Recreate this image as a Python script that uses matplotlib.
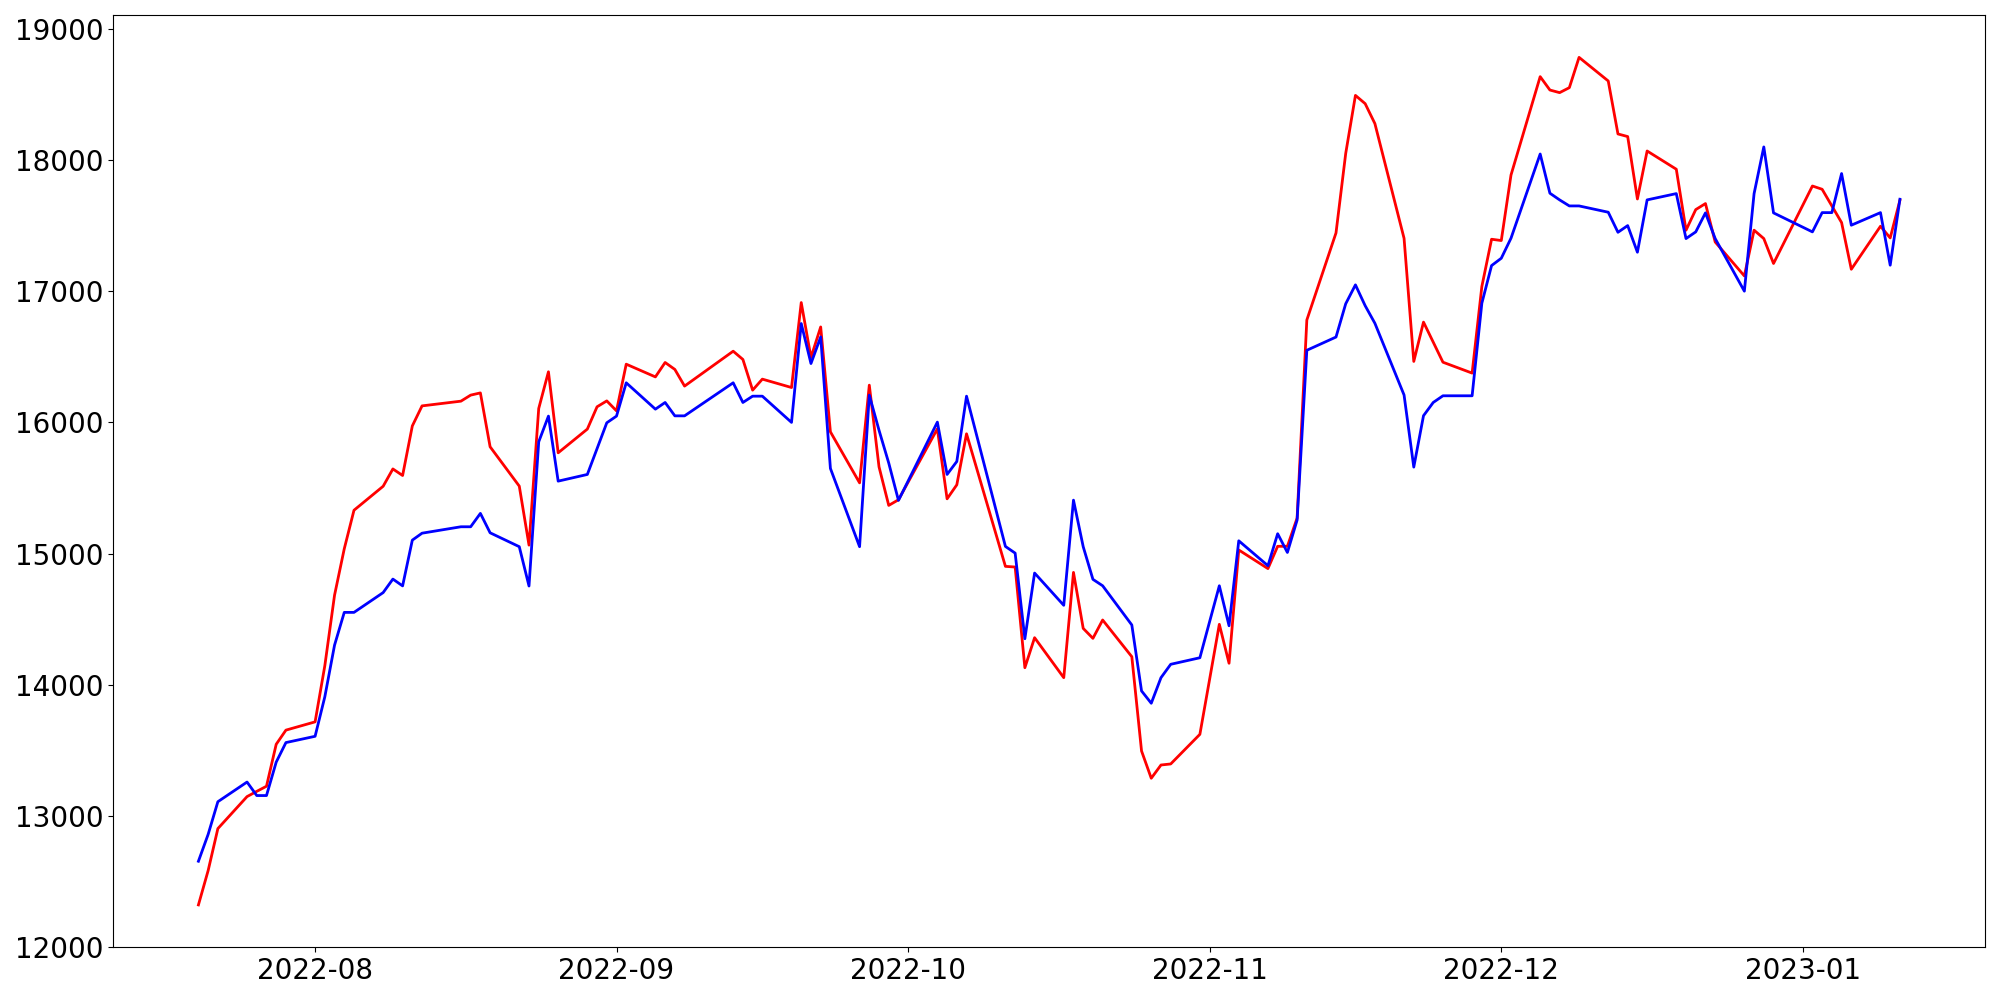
import pandas as pd
from matplotlib import pyplot as plt

# trading days shown in the chart (some days are missing in the data)
dates = [
    "2022-07-20", "2022-07-21", "2022-07-22", "2022-07-25", "2022-07-26", "2022-07-27", "2022-07-28", "2022-07-29",
    "2022-08-01", "2022-08-02", "2022-08-03", "2022-08-04", "2022-08-05",
    "2022-08-08", "2022-08-09", "2022-08-10", "2022-08-11", "2022-08-12",
    "2022-08-16", "2022-08-17", "2022-08-18", "2022-08-19",
    "2022-08-22", "2022-08-23", "2022-08-24", "2022-08-25", "2022-08-26",
    "2022-08-29", "2022-08-30", "2022-08-31", "2022-09-01", "2022-09-02",
    "2022-09-05", "2022-09-06", "2022-09-07", "2022-09-08",
    "2022-09-13", "2022-09-14", "2022-09-15", "2022-09-16",
    "2022-09-19", "2022-09-20", "2022-09-21", "2022-09-22", "2022-09-23",
    "2022-09-26", "2022-09-27", "2022-09-28", "2022-09-29", "2022-09-30",
    "2022-10-04", "2022-10-05", "2022-10-06", "2022-10-07",
    "2022-10-11", "2022-10-12", "2022-10-13", "2022-10-14",
    "2022-10-17", "2022-10-18", "2022-10-19", "2022-10-20", "2022-10-21",
    "2022-10-24", "2022-10-25", "2022-10-26", "2022-10-27", "2022-10-28",
    "2022-10-31", "2022-11-01", "2022-11-02", "2022-11-03", "2022-11-04",
    "2022-11-07", "2022-11-08", "2022-11-09", "2022-11-10", "2022-11-11",
    "2022-11-14", "2022-11-15", "2022-11-16", "2022-11-17", "2022-11-18",
    "2022-11-21", "2022-11-22", "2022-11-23", "2022-11-24", "2022-11-25",
    "2022-11-28", "2022-11-29", "2022-11-30", "2022-12-01", "2022-12-02",
    "2022-12-05", "2022-12-06", "2022-12-07", "2022-12-08", "2022-12-09",
    "2022-12-12", "2022-12-13", "2022-12-14", "2022-12-15", "2022-12-16",
    "2022-12-19", "2022-12-20", "2022-12-21", "2022-12-22", "2022-12-23",
    "2022-12-26", "2022-12-27", "2022-12-28", "2022-12-29",
    "2023-01-02", "2023-01-03", "2023-01-04", "2023-01-05", "2023-01-06",
    "2023-01-09", "2023-01-10", "2023-01-11",
]

red_values = [
    12320, 12582, 12902, 13146, 13186, 13225, 13545, 13653,
    13716, 14144, 14682, 15036, 15330,
    15513, 15645, 15595, 15973, 16126,
    16162, 16208, 16225, 15814,
    15514, 15064, 16106, 16386, 15768,
    15949, 16119, 16164, 16088, 16444,
    16347, 16457, 16404, 16277,
    16543, 16480, 16246, 16330,
    16266, 16914, 16495, 16728, 15928,
    15539, 16284, 15661, 15367, 15410,
    15951, 15417, 15524, 15913,
    14902, 14897, 14129, 14358,
    14053, 14856, 14429, 14353, 14493,
    14213, 13494, 13286, 13387, 13395,
    13621, 14040, 14460, 14163, 15027,
    14885, 15055, 15055, 15270, 16781,
    17445, 18052, 18494, 18431, 18279,
    17404, 16465, 16765, 16612, 16459,
    16376, 17036, 17397, 17387, 17887,
    18637, 18535, 18515, 18553, 18784,
    18604, 18200, 18180, 17704, 18070,
    17931, 17466, 17623, 17669, 17376,
    17117, 17466, 17402, 17212,
    17803, 17778, 17651, 17524, 17168,
    17496, 17407, 17694,
]

blue_values = [
    12653, 12858, 13107, 13257, 13154, 13154, 13409, 13558,
    13606, 13907, 14301, 14551, 14551,
    14702, 14805, 14753, 15102, 15155,
    15204, 15204, 15306, 15158,
    15052, 14752, 15852, 16048, 15552,
    15603, 15800, 15997, 16048, 16302,
    16101, 16152, 16050, 16050,
    16302, 16152, 16200, 16200,
    16000, 16754, 16449, 16652, 15649,
    15052, 16208, 15940, 15690, 15405,
    16002, 15603, 15702, 16200,
    15054, 15003, 14350, 14851,
    14605, 15407, 15052, 14803, 14754,
    14455, 13952, 13858, 14053, 14155,
    14205, 14480, 14754, 14449, 15097,
    14907, 15151, 15008, 15255, 16550,
    16651, 16905, 17049, 16890, 16756,
    16209, 15659, 16051, 16152, 16203,
    16203, 16909, 17196, 17252, 17405,
    18047, 17748, 17697, 17651, 17651,
    17603, 17450, 17501, 17298, 17697,
    17745, 17402, 17453, 17598, 17402,
    17001, 17745, 18101, 17598,
    17453, 17600, 17600, 17898, 17504,
    17600, 17199, 17702,
]

df = pd.DataFrame({"red": red_values, "blue": blue_values}, index=pd.to_datetime(dates))

plt.figure(figsize=(20, 10), dpi=100)
plt.plot(df.index, df.red, color="red", linewidth=2)
plt.plot(df.index, df.blue, color="blue", linewidth=2)
plt.tick_params(labelsize=20)
plt.tight_layout()
plt.savefig("out.png")
